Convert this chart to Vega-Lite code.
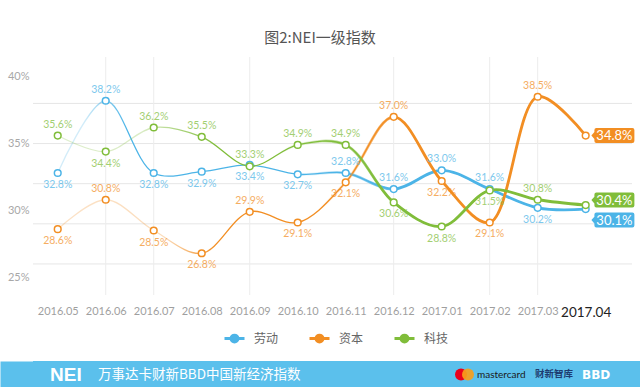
{
  "$schema": "https://vega.github.io/schema/vega-lite/v6.json",
  "background": "white",
  "padding": {"top": 30, "left": 0, "right": 0, "bottom": 0},
  "config": {"view": {"stroke": null}, "font": "Lato"},
  "columns": 1,
  "align": "none",
  "spacing": 13,
  "resolve": {"scale": {"x": "independent", "y": "independent", "color": "independent", "stroke": "independent"}, "legend": {"stroke": "independent", "color": "independent"}},
  "datasets": {
    "nei": [
      {"month": "2016.05", "series": "劳动", "v": 32.8},
      {"month": "2016.06", "series": "劳动", "v": 38.2},
      {"month": "2016.07", "series": "劳动", "v": 32.8},
      {"month": "2016.08", "series": "劳动", "v": 32.9},
      {"month": "2016.09", "series": "劳动", "v": 33.4},
      {"month": "2016.10", "series": "劳动", "v": 32.7},
      {"month": "2016.11", "series": "劳动", "v": 32.8},
      {"month": "2016.12", "series": "劳动", "v": 31.6},
      {"month": "2017.01", "series": "劳动", "v": 33.0},
      {"month": "2017.02", "series": "劳动", "v": 31.6},
      {"month": "2017.03", "series": "劳动", "v": 30.2},
      {"month": "2017.04", "series": "劳动", "v": 30.1, "label": "30.1%"},
      {"month": "2016.05", "series": "资本", "v": 28.6},
      {"month": "2016.06", "series": "资本", "v": 30.8},
      {"month": "2016.07", "series": "资本", "v": 28.5},
      {"month": "2016.08", "series": "资本", "v": 26.8},
      {"month": "2016.09", "series": "资本", "v": 29.9},
      {"month": "2016.10", "series": "资本", "v": 29.1},
      {"month": "2016.11", "series": "资本", "v": 32.1},
      {"month": "2016.12", "series": "资本", "v": 37.0},
      {"month": "2017.01", "series": "资本", "v": 32.2},
      {"month": "2017.02", "series": "资本", "v": 29.1},
      {"month": "2017.03", "series": "资本", "v": 38.5},
      {"month": "2017.04", "series": "资本", "v": 35.6, "label": "34.8%"},
      {"month": "2016.05", "series": "科技", "v": 35.6},
      {"month": "2016.06", "series": "科技", "v": 34.4},
      {"month": "2016.07", "series": "科技", "v": 36.2},
      {"month": "2016.08", "series": "科技", "v": 35.5},
      {"month": "2016.09", "series": "科技", "v": 33.3},
      {"month": "2016.10", "series": "科技", "v": 34.9},
      {"month": "2016.11", "series": "科技", "v": 34.9},
      {"month": "2016.12", "series": "科技", "v": 30.6},
      {"month": "2017.01", "series": "科技", "v": 28.8},
      {"month": "2017.02", "series": "科技", "v": 31.5},
      {"month": "2017.03", "series": "科技", "v": 30.8},
      {"month": "2017.04", "series": "科技", "v": 30.4, "label": "30.4%"}
    ]
  },
  "concat": [
    {
      "width": 599,
      "height": 238,
      "title": {"text": "图2:NEI一级指数", "font": "Noto Sans CJK SC", "fontSize": 15, "fontWeight": "normal", "color": "#555555", "anchor": "middle", "frame": "group", "offset": 11, "dx": -12.5},
      "layer": [
        {
          "data": {"values": [{"g": 26}, {"g": 29}, {"g": 32}, {"g": 35}, {"g": 38}]},
          "mark": {"type": "rule", "color": "#e6e6e6", "strokeWidth": 1},
          "encoding": {"y": {"field": "g", "type": "quantitative", "scale": {"domain": [23.68, 41.47], "nice": false, "zero": false},
              "axis": {"title": null, "values": [25, 30, 35, 40], "labelExpr": "datum.value + '%'", "grid": false, "ticks": false, "domain": false, "labelColor": "#a8a8a8", "labelFontSize": 11, "labelFont": "Lato", "labelPadding": 4, "minExtent": 33, "maxExtent": 33}}}
        },
        {
          "data": {"values": [{"month": "2016.06"}, {"month": "2016.07"}, {"month": "2016.09"}, {"month": "2016.12"}, {"month": "2017.02"}, {"month": "2017.03"}]},
          "mark": {"type": "rule", "color": "#ececec", "strokeWidth": 1},
          "encoding": {"x": {"field": "month", "type": "ordinal", "scale": {"type": "point", "domain": ["2016.05","2016.06","2016.07","2016.08","2016.09","2016.10","2016.11","2016.12","2017.01","2017.02","2017.03","2017.04"], "padding": 0.74, "align": 0.348},
              "axis": {"title": null, "labelAngle": 0, "ticks": false, "domain": false, "grid": false, "labelPadding": 10, "labelFont": "Lato",
                "labelColor": {"condition": {"test": "datum.value === '2017.04'", "value": "#222222"}, "value": "#9f9f9f"},
                "labelFontSize": {"condition": {"test": "datum.value === '2017.04'", "value": 13.5}, "value": 11}}}}
        },
        {
          "data": {"name": "nei"},
          "encoding": {
            "x": {"field": "month", "type": "ordinal", "scale": {"type": "point", "domain": ["2016.05","2016.06","2016.07","2016.08","2016.09","2016.10","2016.11","2016.12","2017.01","2017.02","2017.03","2017.04"], "padding": 0.74, "align": 0.348},
              "axis": {"title": null, "labelAngle": 0, "ticks": false, "domain": false, "grid": false, "labelPadding": 10, "labelFont": "Lato",
                "labelColor": {"condition": {"test": "datum.value === '2017.04'", "value": "#222222"}, "value": "#9f9f9f"},
                "labelFontSize": {"condition": {"test": "datum.value === '2017.04'", "value": 13.5}, "value": 11}}},
            "y": {"field": "v", "type": "quantitative", "scale": {"domain": [23.68, 41.47], "nice": false, "zero": false},
              "axis": {"title": null, "values": [25, 30, 35, 40], "labelExpr": "datum.value + '%'", "grid": false, "ticks": false, "domain": false, "labelColor": "#a8a8a8", "labelFontSize": 11, "labelFont": "Lato", "labelPadding": 4, "minExtent": 33, "maxExtent": 33}}
          },
          "layer": [
            {
              "transform": [{"filter": "datum.series === '劳动'"}],
              "mark": {"type": "line", "interpolate": "catmull-rom", "strokeWidth": 1.3, "stroke": {"gradient": "linear", "x1": 0, "y1": 0, "x2": 1, "y2": 0, "stops": [{"offset": 0, "color": "rgba(76,180,231,0.25)"}, {"offset": 0.05, "color": "rgba(76,180,231,0.25)"}, {"offset": 0.13, "color": "rgba(76,180,231,1)"}, {"offset": 1, "color": "rgba(76,180,231,1)"}]}}
            },
            {
              "transform": [{"filter": "datum.series === '资本'"}],
              "mark": {"type": "line", "interpolate": "catmull-rom", "strokeWidth": 1.3, "stroke": {"gradient": "linear", "x1": 0, "y1": 0, "x2": 1, "y2": 0, "stops": [{"offset": 0, "color": "rgba(242,142,35,0.25)"}, {"offset": 0.2, "color": "rgba(242,142,35,0.3)"}, {"offset": 0.3, "color": "rgba(242,142,35,1)"}, {"offset": 1, "color": "rgba(242,142,35,1)"}]}}
            },
            {
              "transform": [{"filter": "datum.series === '科技'"}],
              "mark": {"type": "line", "interpolate": "catmull-rom", "strokeWidth": 1.3, "stroke": {"gradient": "linear", "x1": 0, "y1": 0, "x2": 1, "y2": 0, "stops": [{"offset": 0, "color": "rgba(128,189,58,0.25)"}, {"offset": 0.16, "color": "rgba(128,189,58,0.3)"}, {"offset": 0.3, "color": "rgba(128,189,58,1)"}, {"offset": 1, "color": "rgba(128,189,58,1)"}]}}
            },
            {
              "transform": [{"filter": "datum.series === '劳动'"}],
              "mark": {"type": "line", "interpolate": "catmull-rom", "strokeWidth": 2.8, "stroke": {"gradient": "linear", "x1": 0, "y1": 0, "x2": 1, "y2": 0, "stops": [{"offset": 0, "color": "rgba(76,180,231,0)"}, {"offset": 0.45, "color": "rgba(76,180,231,0)"}, {"offset": 0.65, "color": "rgba(76,180,231,1)"}, {"offset": 1, "color": "rgba(76,180,231,1)"}]}}
            },
            {
              "transform": [{"filter": "datum.series === '资本'"}],
              "mark": {"type": "line", "interpolate": "catmull-rom", "strokeWidth": 2.8, "stroke": {"gradient": "linear", "x1": 0, "y1": 0, "x2": 1, "y2": 0, "stops": [{"offset": 0, "color": "rgba(242,142,35,0)"}, {"offset": 0.5, "color": "rgba(242,142,35,0)"}, {"offset": 0.65, "color": "rgba(242,142,35,1)"}, {"offset": 1, "color": "rgba(242,142,35,1)"}]}}
            },
            {
              "transform": [{"filter": "datum.series === '科技'"}],
              "mark": {"type": "line", "interpolate": "catmull-rom", "strokeWidth": 2.8, "stroke": {"gradient": "linear", "x1": 0, "y1": 0, "x2": 1, "y2": 0, "stops": [{"offset": 0, "color": "rgba(128,189,58,0)"}, {"offset": 0.42, "color": "rgba(128,189,58,0)"}, {"offset": 0.62, "color": "rgba(128,189,58,1)"}, {"offset": 1, "color": "rgba(128,189,58,1)"}]}}
            },
            {
              "mark": {"type": "point", "shape": "circle", "filled": true, "fill": "#ffffff", "size": 45, "strokeWidth": 1.5, "opacity": 1},
              "encoding": {
                "stroke": {"field": "series", "type": "nominal", "scale": {"domain": ["劳动", "资本", "科技"], "range": ["#4cb4e7", "#f28e23", "#80bd3a"]},
                  "legend": {"title": null, "orient": "none", "legendX": 190, "legendY": 270, "direction": "horizontal", "padding": 0, "columnPadding": 24, "labelOffset": 8, "labelFont": "Noto Sans CJK SC", "labelFontSize": 12, "labelColor": "#666666",
                    "symbolType": "M-1,0L-0.38,0M0.38,0L1,0M0.34,0A0.34,0.34,0,1,1,-0.34,0A0.34,0.34,0,1,1,0.34,0Z", "symbolSize": 400, "symbolStrokeWidth": 3, "symbolFillColor": "#ffffff",
                    "encode": {"symbols": {"update": {"fill": {"value": "#ffffff"}, "size": {"value": 400}, "strokeWidth": {"value": 3}, "opacity": {"value": 1}, "shape": {"value": "M-1,0L-0.38,0M0.38,0L1,0M0.34,0A0.34,0.34,0,1,1,-0.34,0A0.34,0.34,0,1,1,0.34,0Z"}}}}}}
              }
            },
            {
              "transform": [
                {"filter": "datum.month !== '2017.04' && indexof(['劳动|2016.06','劳动|2016.11','劳动|2016.12','劳动|2017.01','劳动|2017.02','资本|2016.06','资本|2016.09','资本|2016.12','资本|2017.03','科技|2016.05','科技|2016.07','科技|2016.08','科技|2016.09','科技|2016.10','科技|2016.11','科技|2017.03'], datum.series + '|' + datum.month) >= 0"},
                {"calculate": "format(datum.v, '.1f') + '%'", "as": "lbl"}
              ],
              "mark": {"type": "text", "dy": -11, "fontSize": 10.5, "font": "Lato", "baseline": "middle", "align": "center", "opacity": 0.72},
              "encoding": {
                "text": {"field": "lbl"},
                "color": {"field": "series", "type": "nominal", "scale": {"domain": ["劳动", "资本", "科技"], "range": ["#4cb4e7", "#f28e23", "#80bd3a"]}, "legend": null}
              }
            },
            {
              "transform": [
                {"filter": "datum.month !== '2017.04' && indexof(['劳动|2016.06','劳动|2016.11','劳动|2016.12','劳动|2017.01','劳动|2017.02','资本|2016.06','资本|2016.09','资本|2016.12','资本|2017.03','科技|2016.05','科技|2016.07','科技|2016.08','科技|2016.09','科技|2016.10','科技|2016.11','科技|2017.03'], datum.series + '|' + datum.month) < 0"},
                {"calculate": "format(datum.v, '.1f') + '%'", "as": "lbl"}
              ],
              "mark": {"type": "text", "dy": 12, "fontSize": 10.5, "font": "Lato", "baseline": "middle", "align": "center", "opacity": 0.72},
              "encoding": {
                "text": {"field": "lbl"},
                "color": {"field": "series", "type": "nominal", "scale": {"domain": ["劳动", "资本", "科技"], "range": ["#4cb4e7", "#f28e23", "#80bd3a"]}, "legend": null}
              }
            },
            {
              "transform": [{"filter": "datum.series === '资本' && datum.month === '2017.04'"}],
              "layer": [
                {"mark": {"type": "point", "shape": "M-1,0L-0.86,-0.16L-0.86,-0.256Q-0.86,-0.349,-0.767,-0.349L0.907,-0.349Q1,-0.349,1,-0.256L1,0.256Q1,0.349,0.907,0.349L-0.767,0.349Q-0.86,0.349,-0.86,0.256L-0.86,0.16Z", "filled": true, "fill": "#f28e23", "size": 1849, "strokeWidth": 0, "opacity": 1, "xOffset": 27.2, "yOffset": 0}},
                {"mark": {"type": "text", "color": "#ffffff", "fontSize": 13, "font": "Lato", "dx": 28.7, "dy": 0.5, "align": "center", "baseline": "middle"}, "encoding": {"text": {"field": "label"}}}
              ]
            },
            {
              "transform": [{"filter": "datum.series === '科技' && datum.month === '2017.04'"}],
              "layer": [
                {"mark": {"type": "point", "shape": "M-1,0L-0.86,-0.16L-0.86,-0.256Q-0.86,-0.349,-0.767,-0.349L0.907,-0.349Q1,-0.349,1,-0.256L1,0.256Q1,0.349,0.907,0.349L-0.767,0.349Q-0.86,0.349,-0.86,0.256L-0.86,0.16Z", "filled": true, "fill": "#80bd3a", "size": 1849, "strokeWidth": 0, "opacity": 1, "xOffset": 27.2, "yOffset": -5}},
                {"mark": {"type": "text", "color": "#ffffff", "fontSize": 13, "font": "Lato", "dx": 28.7, "dy": -4.5, "align": "center", "baseline": "middle"}, "encoding": {"text": {"field": "label"}}}
              ]
            },
            {
              "transform": [{"filter": "datum.series === '劳动' && datum.month === '2017.04'"}],
              "layer": [
                {"mark": {"type": "point", "shape": "M-1,0L-0.86,-0.16L-0.86,-0.256Q-0.86,-0.349,-0.767,-0.349L0.907,-0.349Q1,-0.349,1,-0.256L1,0.256Q1,0.349,0.907,0.349L-0.767,0.349Q-0.86,0.349,-0.86,0.256L-0.86,0.16Z", "filled": true, "fill": "#4cb4e7", "size": 1849, "strokeWidth": 0, "opacity": 1, "xOffset": 27.2, "yOffset": 11}},
                {"mark": {"type": "text", "color": "#ffffff", "fontSize": 13, "font": "Lato", "dx": 28.7, "dy": 11.5, "align": "center", "baseline": "middle"}, "encoding": {"text": {"field": "label"}}}
              ]
            }
          ]
        }
      ]
    },
    {
      "width": 607,
      "height": 27,
      "view": {"fill": "#5bc0ec", "stroke": null},
      "data": {"values": [{"item": "NEI"}, {"item": "万事达卡财新BBD中国新经济指数"}, {"item": "mastercard"}, {"item": "财新智库"}, {"item": "BBD"}]},
      "encoding": {
        "x": {"field": "item", "type": "nominal", "scale": {"type": "point", "domain": ["NEI", "万事达卡财新BBD中国新经济指数", "mastercard", "财新智库", "BBD"], "range": [17, 549], "padding": 0}, "axis": null},
        "y": {"datum": 0, "type": "quantitative", "scale": {"domain": [-1, 1]}, "axis": {"title": null, "labels": false, "ticks": false, "grid": false, "domain": true, "domainColor": "#5bc0ec", "domainWidth": 66, "minExtent": 33, "maxExtent": 33}}
      },
      "layer": [
        {"transform": [{"filter": "datum.item === 'NEI'"}], "mark": {"type": "text", "font": "Liberation Sans", "fontWeight": "bold", "fontSize": 19, "color": "#ffffff", "align": "left", "baseline": "middle", "dy": 0.5}, "encoding": {"text": {"field": "item"}}},
        {"transform": [{"filter": "datum.item === '万事达卡财新BBD中国新经济指数'"}], "mark": {"type": "text", "font": "Noto Sans CJK SC", "fontSize": 13.5, "color": "#ffffff", "align": "left", "baseline": "middle", "dx": -85}, "encoding": {"text": {"field": "item"}}},
        {"transform": [{"filter": "datum.item === 'mastercard'"}], "mark": {"type": "point", "shape": "circle", "filled": true, "color": "#eb001b", "size": 144, "opacity": 1, "xOffset": 145}},
        {"transform": [{"filter": "datum.item === 'mastercard'"}], "mark": {"type": "point", "shape": "circle", "filled": true, "color": "#f79e1b", "size": 144, "opacity": 0.92, "xOffset": 152}},
        {"transform": [{"filter": "datum.item === 'mastercard'"}], "mark": {"type": "text", "font": "Lato", "fontSize": 10, "color": "#1a1a1a", "align": "left", "baseline": "middle", "dx": 161}, "encoding": {"text": {"field": "item"}}},
        {"transform": [{"filter": "datum.item === '财新智库'"}], "mark": {"type": "text", "font": "Noto Sans CJK SC", "fontWeight": "bold", "fontSize": 9.5, "color": "#1e3c70", "align": "left", "baseline": "middle", "dy": -1, "dx": 86}, "encoding": {"text": {"field": "item"}}},
        {"transform": [{"filter": "datum.item === 'BBD'"}], "mark": {"type": "text", "font": "DejaVu Sans", "fontWeight": "bold", "fontSize": 12, "color": "#ffffff", "align": "left", "baseline": "middle"}, "encoding": {"text": {"field": "item"}}}
      ]
    }
  ]
}
